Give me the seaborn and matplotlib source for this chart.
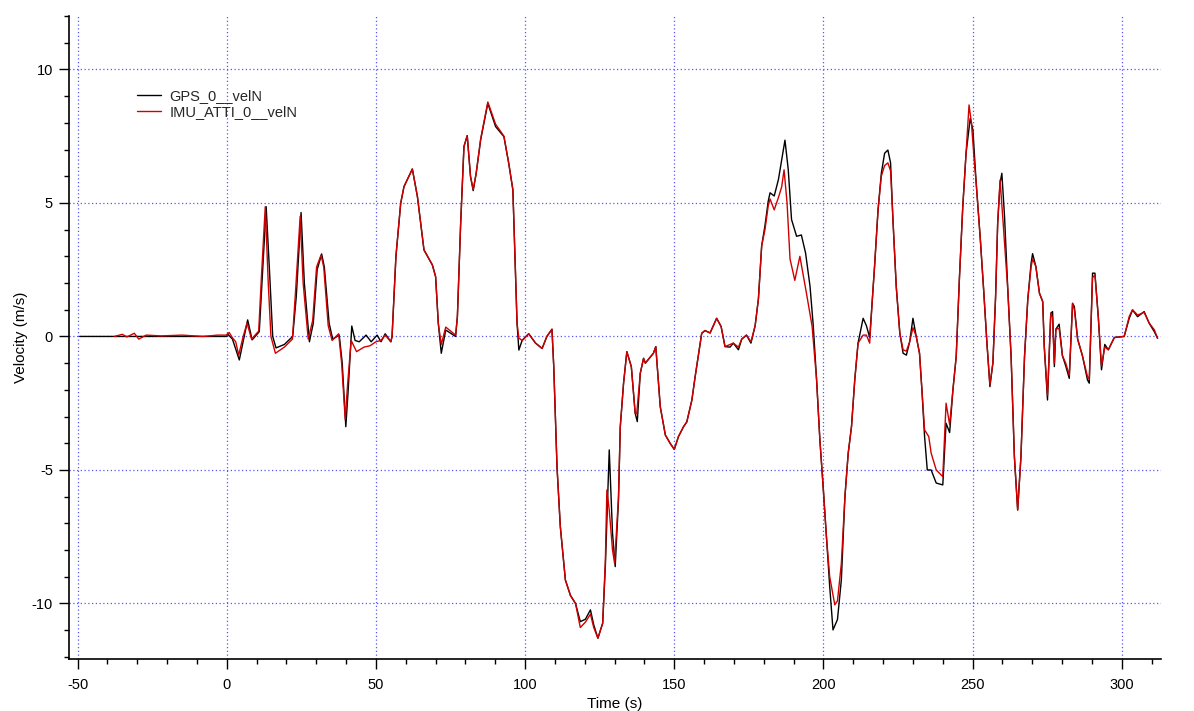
import matplotlib
matplotlib.use("Agg")
import matplotlib.pyplot as plt
import seaborn as sns
import pandas as pd
from matplotlib.ticker import MultipleLocator

# ---- data ----
gps_t = [-49.3, -20.0, 0.0, 0.2, 1.9, 4.2, 7.0, 8.5, 10.9, 11.8, 13.2, 14.3, 15.4, 16.5, 19.3, 22.1,
         23.3, 24.9, 26.0, 27.7, 29.0, 30.3, 31.8, 32.7, 34.3, 35.5, 37.7, 38.7, 39.9, 40.7, 41.9,
         43.0, 44.4, 46.7, 48.4, 50.4, 51.7, 53.1, 55.0, 55.4, 56.7, 58.3, 59.4, 62.2, 63.9, 66.1,
         68.9, 70.0, 70.9, 71.9, 73.4, 76.7, 77.3, 78.4, 79.5, 80.6, 81.7, 82.6, 83.6, 85.1, 87.5,
         90.1, 92.9, 94.5, 95.9, 97.3, 97.9, 99.0, 101.2, 103.5, 105.7, 107.3, 109.0, 109.6, 110.7,
         111.8, 113.5, 115.2, 116.9, 118.5, 120.2, 121.9, 123.0, 124.4, 126.0, 126.9, 128.2, 129.3,
         130.2, 131.3, 131.9, 133.0, 134.1, 135.6, 136.9, 137.6, 138.6, 139.7, 140.3, 143.0, 143.8,
         145.3, 147.0, 148.6, 150.0, 151.4, 153.1, 154.2, 155.9, 157.0, 159.2, 160.3, 162.0, 164.2,
         165.7, 167.0, 168.7, 169.8, 171.5, 172.6, 174.2, 175.7, 177.1, 178.2, 179.3, 180.4, 181.5,
         182.1, 183.5, 184.9, 186.0, 187.1, 188.2, 189.3, 191.0, 192.6, 194.0, 195.5, 196.6, 197.7,
         198.8, 199.9, 201.0, 202.1, 203.2, 204.7, 206.0, 207.2, 208.3, 209.4, 210.5, 211.6, 213.3,
         214.4, 215.5, 216.3, 217.2, 218.3, 219.4, 220.5, 221.6, 222.5, 223.3, 224.4, 225.6, 226.7,
         227.8, 228.9, 230.0, 231.1, 232.2, 233.0, 233.9, 234.8, 236.1, 237.8, 240.0, 241.1, 242.3,
         243.4, 244.5, 245.6, 246.7, 247.8, 249.2, 250.1, 251.2, 252.6, 253.7, 254.8, 255.8, 256.8,
         257.7, 258.4, 259.2, 259.8, 260.7, 261.8, 262.9, 264.0, 265.1, 266.2, 267.4, 268.5, 269.6,
         270.1, 271.2, 272.4, 273.5, 274.0, 275.1, 276.2, 276.8, 277.4, 277.9, 279.0, 280.1, 281.2,
         282.4, 283.5, 284.1, 285.2, 286.8, 288.5, 289.1, 290.2, 291.0, 292.1, 293.2, 294.3, 295.5,
         297.5, 300.8, 302.5, 303.6, 305.3, 307.5, 309.2, 310.9, 312.0]
gps_v = [0.0, 0.0, 0.0, 0.1, -0.1, -0.88, 0.62, -0.13, 0.18, 2.0, 4.86, 2.5, 0.0, -0.43, -0.3, 0.0,
         1.5, 4.64, 2.0, -0.2, 0.5, 2.5, 3.09, 2.6, 0.5, -0.1, 0.05, -1.0, -3.38, -2.0, 0.39,
         -0.15, -0.2, 0.05, -0.2, 0.05, -0.2, 0.1, -0.2, 0.0, 3.0, 4.99, 5.61, 6.27, 5.24, 3.24,
         2.68, 2.24, 0.49, -0.63, 0.24, 0.0, 0.74, 4.24, 7.11, 7.52, 5.99, 5.46, 6.11, 7.36, 8.73,
         7.86, 7.48, 6.49, 5.49, 0.49, -0.51, -0.15, 0.1, -0.25, -0.45, 0.0, 0.27, -1.13, -4.9,
         -7.12, -9.12, -9.7, -10.0, -10.68, -10.59, -10.24, -10.8, -11.3, -10.74, -8.6, -4.25, -7.37,
         -8.62, -6.12, -3.38, -1.75, -0.57, -1.13, -2.88, -3.19, -1.38, -0.82, -1.0, -0.63, -0.38,
         -2.63, -3.69, -4.0, -4.23, -3.75, -3.38, -3.2, -2.38, -1.5, 0.12, 0.22, 0.13, 0.68,
         0.37, -0.38, -0.4, -0.25, -0.5, -0.1, 0.05, -0.25, 0.4, 1.4, 3.4, 4.15, 5.07,
         5.38, 5.26, 5.87, 6.6, 7.35, 6.25, 4.38, 3.75, 3.8, 3.13, 1.88, 0.38, -1.62,
         -3.87, -5.63, -7.5, -9.37, -10.99, -10.6, -9.12, -6.0, -4.37, -3.38, -1.62, -0.25, 0.68,
         0.4, -0.04, 1.24, 2.74, 4.74, 6.11, 6.86, 6.98, 6.5, 4.36, 1.87, 0.12, -0.63,
         -0.7, -0.2, 0.68, 0.0, -0.63, -2.0, -3.75, -5.0, -5.0, -5.49, -5.56, -3.25, -3.6,
         -2.0, -0.75, 2.24, 4.86, 6.86, 8.17, 7.73, 5.74, 3.61, 1.74, -0.25, -1.88, -0.99,
         1.49, 4.24, 5.74, 6.11, 4.49, 1.74, -0.75, -4.5, -6.5, -4.5, -0.75, 1.4, 2.74,
         3.1, 2.62, 1.62, 1.3, -0.35, -2.38, 0.87, 0.93, -1.13, 0.27, 0.46, -0.72, -1.1,
         -1.57, 1.24, 1.12, -0.1, -0.72, -1.63, -1.75, 2.37, 2.37, 0.77, -1.25, -0.3, -0.5,
         -0.04, 0.0, 0.68, 0.99, 0.74, 0.93, 0.49, 0.18, -0.07]

imu_t = [-37.6, -35.0, -33.5, -31.0, -29.5, -27.0, -22.0, -15.0, -8.0, -3.0, 0.0, 0.8, 1.9, 3.0,
         4.0, 5.5, 6.8, 8.3, 10.7, 11.6, 12.9, 13.9, 14.8, 16.3, 19.3, 22.0, 23.0, 24.6, 25.6,
         27.3, 28.8, 30.1, 31.6, 32.5, 34.0, 35.3, 37.5, 38.5, 39.7, 40.5, 41.7, 43.5, 46.0,
         48.0, 50.0, 51.7, 53.1, 55.0, 55.4, 56.7, 58.3, 59.4, 62.2, 63.9, 66.1, 68.9, 70.0,
         70.9, 71.9, 73.4, 76.7, 77.3, 78.4, 79.5, 80.6, 81.7, 82.6, 83.6, 85.1, 87.5, 90.1,
         92.9, 94.5, 95.9, 97.3, 97.9, 99.0, 101.2, 103.5, 105.7, 107.3, 109.0, 109.6, 110.7,
         111.8, 113.5, 115.2, 116.9, 118.5, 120.2, 121.9, 123.0, 124.4, 126.0, 126.9, 127.4,
         128.2, 129.3, 130.0, 131.3, 131.9, 133.0, 134.1, 135.6, 136.9, 137.4, 138.6, 139.7,
         140.3, 143.0, 143.8, 145.3, 147.0, 148.6, 150.0, 151.4, 153.1, 154.2, 155.9, 157.0,
         159.2, 160.3, 162.0, 164.2, 165.7, 167.0, 168.7, 169.8, 171.5, 172.6, 174.2, 175.7,
         177.1, 178.2, 179.3, 180.4, 181.5, 182.1, 183.5, 184.9, 186.0, 186.8, 187.8, 188.8,
         190.4, 192.1, 194.3, 196.2, 197.7, 198.8, 199.9, 201.0, 202.1, 203.8, 204.7, 206.0,
         207.2, 208.3, 209.4, 210.5, 211.6, 213.3, 214.4, 215.5, 216.3, 217.2, 218.3, 219.4,
         220.5, 221.6, 222.5, 223.3, 224.4, 225.6, 226.7, 227.8, 228.9, 230.0, 231.1, 232.2,
         233.0, 233.9, 235.3, 236.1, 237.8, 240.0, 241.1, 242.3, 243.4, 244.5, 245.6, 246.7,
         247.8, 248.8, 249.6, 250.6, 251.2, 252.6, 253.7, 254.8, 255.8, 256.8, 257.7, 258.4,
         259.2, 260.2, 261.8, 262.9, 264.0, 265.1, 266.2, 267.4, 268.5, 269.6, 270.1, 271.2,
         272.4, 273.5, 274.0, 275.1, 276.2, 276.8, 277.4, 277.9, 279.0, 280.1, 281.2, 282.4,
         283.5, 284.1, 285.2, 286.8, 288.5, 289.1, 290.2, 291.0, 292.1, 293.2, 294.3, 295.5,
         297.5, 300.8, 302.5, 303.6, 305.3, 307.5, 309.2, 310.9, 312.0]
imu_v = [0.0, 0.08, -0.02, 0.12, -0.1, 0.05, 0.02, 0.05, 0.0, 0.05, 0.05, 0.15, -0.05, -0.2,
         -0.7, 0.0, 0.5, -0.1, 0.2, 2.2, 4.86, 2.0, 0.0, -0.63, -0.4, -0.1, 1.6, 4.5, 2.0,
         -0.1, 0.6, 2.6, 3.05, 2.6, 0.4, -0.15, 0.1, -1.0, -3.1, -1.8, -0.15, -0.57, -0.4,
         -0.35, -0.2, -0.15, 0.05, -0.2, 0.0, 3.0, 4.99, 5.61, 6.27, 5.24, 3.24, 2.68, 2.24,
         0.49, -0.3, 0.35, 0.05, 0.74, 4.24, 7.11, 7.52, 5.99, 5.5, 6.11, 7.4, 8.78, 7.95,
         7.5, 6.49, 5.49, 0.49, -0.06, -0.15, 0.1, -0.25, -0.45, 0.0, 0.27, -1.13, -4.9,
         -7.12, -9.12, -9.7, -10.0, -10.9, -10.7, -10.4, -10.9, -11.3, -10.74, -8.4, -5.75,
         -6.5, -8.0, -8.5, -6.0, -3.38, -1.75, -0.57, -1.13, -2.88, -2.9, -1.38, -0.82,
         -1.0, -0.63, -0.38, -2.63, -3.69, -4.0, -4.23, -3.75, -3.38, -3.2, -2.38, -1.5,
         0.12, 0.22, 0.13, 0.68, 0.37, -0.38, -0.3, -0.25, -0.4, -0.1, 0.05, -0.2,
         0.4, 1.4, 3.4, 4.0, 4.9, 5.15, 4.74, 5.2, 5.6, 6.24, 5.0, 2.9,
         2.1, 3.0, 1.62, 0.38, -1.62, -3.87, -5.63, -7.5, -9.0, -10.05, -9.9, -8.5,
         -6.0, -4.37, -3.38, -1.62, -0.25, 0.05, 0.05, -0.25, 1.24, 2.74, 4.74, 6.0,
         6.4, 6.5, 6.2, 4.36, 1.87, 0.12, -0.5, -0.55, -0.2, 0.33, 0.0, -0.63,
         -2.0, -3.5, -3.75, -4.37, -5.0, -5.25, -2.5, -3.3, -2.0, -0.75, 2.24, 4.86,
         6.86, 8.67, 8.0, 6.5, 5.74, 3.61, 1.74, -0.25, -1.8, -0.99, 1.49, 4.24,
         5.86, 4.3, 1.74, -0.75, -4.5, -6.5, -4.5, -0.75, 1.4, 2.6, 2.9, 2.62,
         1.62, 1.3, -0.35, -2.2, 0.87, 0.7, -1.0, 0.27, 0.3, -0.72, -1.0, -1.45,
         1.24, 1.0, -0.1, -0.72, -1.5, -1.6, 2.2, 2.3, 0.77, -1.1, -0.4, -0.5,
         -0.04, 0.0, 0.75, 1.0, 0.8, 0.9, 0.5, 0.25, -0.07]

series_labels = ["GPS_0__velN", "IMU_ATTI_0__velN"]
x_label = "Time (s)"
y_label = "Velocity (m/s)"

# ---- styling ----
sns.set_theme(style="white")
plt.rcParams["font.family"] = ["Liberation Sans", "DejaVu Sans"]
plt.rcParams["axes.unicode_minus"] = False

fig = plt.figure(figsize=(11.94, 7.11), dpi=100)
ax = fig.add_axes([0.058, 0.0731, 0.914, 0.9044])

gps_df = pd.DataFrame({"t": gps_t, "v": gps_v})
imu_df = pd.DataFrame({"t": imu_t, "v": imu_v})

sns.lineplot(data=gps_df, x="t", y="v", ax=ax, color="black", linewidth=1.0,
             estimator=None, sort=False, label=series_labels[0])
sns.lineplot(data=imu_df, x="t", y="v", ax=ax, color="#d00000", linewidth=1.0,
             estimator=None, sort=False, label=series_labels[1])

ax.set_xlim(-52.8, 313.0)
ax.set_ylim(-12.08, 12.0)

ax.xaxis.set_major_locator(MultipleLocator(50))
ax.xaxis.set_minor_locator(MultipleLocator(10))
ax.yaxis.set_major_locator(MultipleLocator(5))
ax.yaxis.set_minor_locator(MultipleLocator(1))

ax.grid(True, which="major", color="#5555ff", linestyle=(0, (1, 2)), linewidth=0.9)
ax.grid(False, which="minor")

for s in ["top", "right"]:
    ax.spines[s].set_visible(False)
for s in ["left", "bottom"]:
    ax.spines[s].set_color("black")
    ax.spines[s].set_linewidth(1.2)

ax.tick_params(which="major", direction="out", length=7, width=1.0, color="black",
               labelsize=10.5, labelcolor="black", bottom=True, left=True)
ax.tick_params(which="minor", direction="out", length=3.5, width=1.0, color="black",
               bottom=True, left=True)
ax.tick_params(axis="x", which="major", pad=7)
ax.tick_params(axis="y", which="major", pad=4.7)

ax.set_xlabel(x_label, fontsize=11, color="black", labelpad=3)
ax.set_ylabel(y_label, fontsize=11, color="black")
ax.yaxis.set_label_coords(-0.0375, 0.5)

leg = ax.legend(loc="upper left", bbox_to_anchor=(0.062, 0.886), frameon=False,
                fontsize=10.5, handlelength=1.65, handletextpad=0.6, labelspacing=0.1,
                borderpad=0, borderaxespad=0)
for line in leg.get_lines():
    line.set_linewidth(1.0)

fig.savefig("out.png", dpi=100)
